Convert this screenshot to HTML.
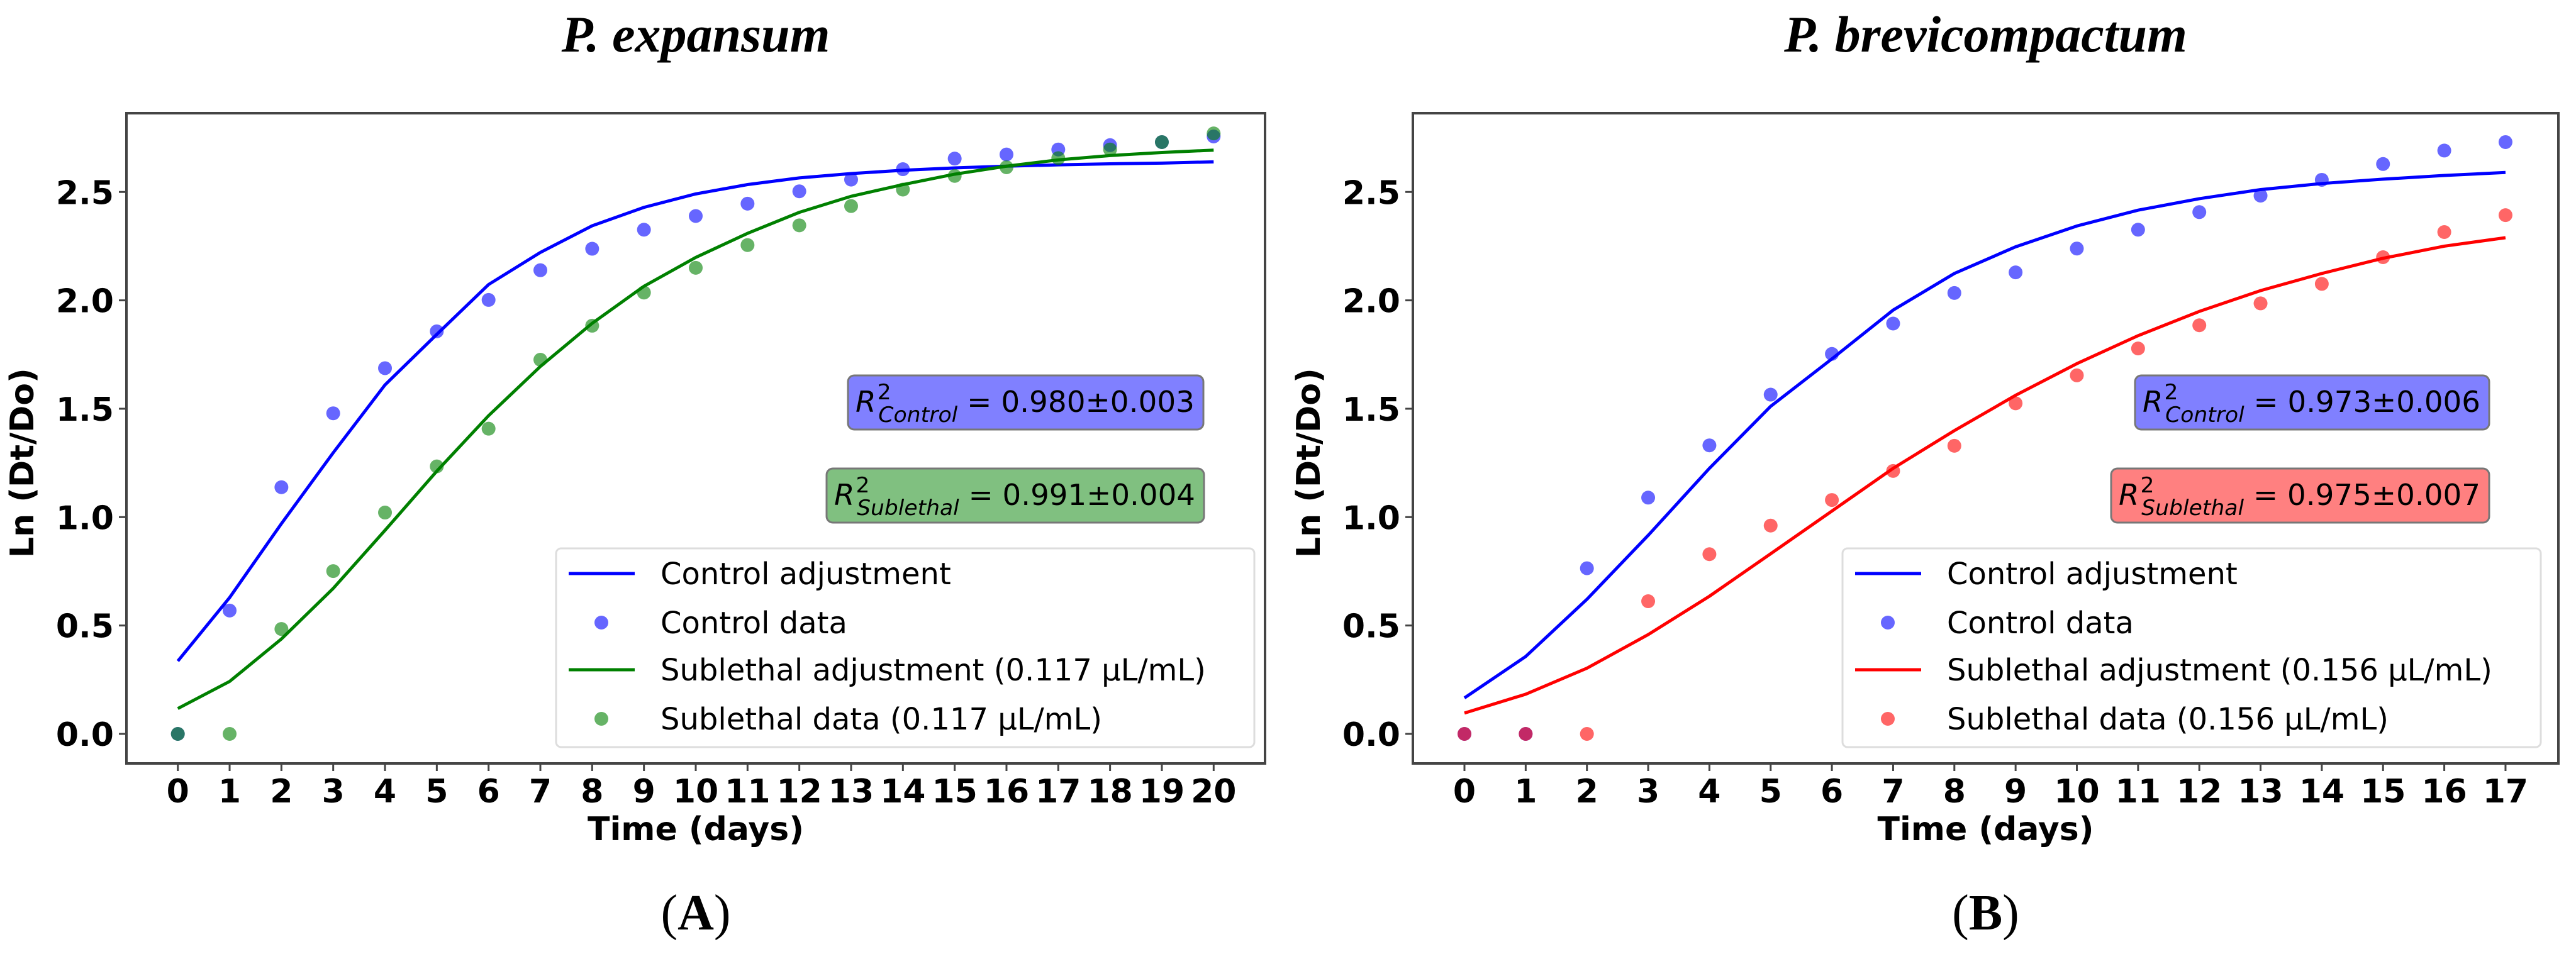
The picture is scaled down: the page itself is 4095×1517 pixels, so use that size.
<!DOCTYPE html>
<html><head><meta charset="utf-8"><style>
html,body{margin:0;padding:0;background:#fff;}
svg{display:block;}
text{font-family:"DejaVu Sans","Liberation Sans",sans-serif;}
.tick{font-weight:bold;font-size:52px;}
.lbl{font-weight:bold;font-size:52px;}
.leg{font-size:48px;}
.rb{font-size:46px;}
.ttl{font-family:"Liberation Serif",serif;font-style:italic;font-weight:bold;font-size:82px;}
.pan{font-family:"Liberation Serif",serif;font-size:80px;}
</style></head><body>
<svg id="fig" width="4095" height="1517" viewBox="0 0 4095 1517" xmlns="http://www.w3.org/2000/svg"></svg>
<script>
// Panel A data (P. expansum)
const daysA = [0,1,2,3,4,5,6,7,8,9,10,11,12,13,14,15,16,17,18,19,20];
const ctrlDataA = [0,0.569,1.138,1.479,1.687,1.857,2.002,2.139,2.238,2.326,2.389,2.446,2.503,2.557,2.605,2.654,2.673,2.696,2.716,2.730,2.756];
const ctrlFitA = [0.336,0.629,0.97,1.297,1.61,1.843,2.073,2.221,2.344,2.429,2.491,2.534,2.565,2.585,2.6,2.611,2.619,2.625,2.63,2.633,2.639];
const subDataA = [0,0,0.484,0.751,1.021,1.234,1.408,1.726,1.883,2.036,2.150,2.255,2.346,2.435,2.511,2.574,2.614,2.656,2.696,2.730,2.770];
const subFitA = [0.117,0.242,0.438,0.671,0.939,1.212,1.468,1.695,1.894,2.065,2.198,2.309,2.406,2.48,2.534,2.582,2.619,2.648,2.668,2.682,2.693];
// Panel B data (P. brevicompactum)
const daysB = [0,1,2,3,4,5,6,7,8,9,10,11,12,13,14,15,16,17];
const ctrlDataB = [0,0,0.764,1.090,1.331,1.565,1.753,1.893,2.034,2.129,2.239,2.326,2.407,2.483,2.556,2.629,2.691,2.730];
const ctrlFitB = [0.166,0.357,0.621,0.916,1.225,1.511,1.73,1.955,2.124,2.247,2.343,2.416,2.469,2.511,2.539,2.559,2.576,2.59];
const subDataB = [0,0,0,0.612,0.829,0.961,1.079,1.213,1.329,1.525,1.654,1.778,1.885,1.986,2.076,2.199,2.315,2.393];
const subFitB = [0.096,0.183,0.303,0.458,0.635,0.831,1.028,1.225,1.399,1.562,1.708,1.837,1.949,2.045,2.124,2.194,2.25,2.289];
const yTicks = [0,0.5,1.0,1.5,2.0,2.5];
const yTickLabels = ["0.0","0.5","1.0","1.5","2.0","2.5"];

const NS="http://www.w3.org/2000/svg";
const svg=document.getElementById('fig');
function mk(tag,attrs,parent,txt){const e=document.createElementNS(NS,tag);for(const k in attrs)e.setAttribute(k,attrs[k]);if(txt!==undefined)e.textContent=txt;(parent||svg).appendChild(e);return e;}

function panel(o){
  const g=mk('g',{});
  
  
  const L=o.left,R=o.right,T=180,B=1214;
  const x=d=>o.x0+d*o.dx;
  const y=v=>1167-v*344.7;
  const t=mk('text',{x:(L+R)/2,y:82,'text-anchor':'middle',class:'ttl'},g,o.title);
  
  
  const p=mk('text',{x:(L+R)/2,y:1478,'text-anchor':'middle',class:'pan'},g);
  
  
  mk('tspan',{},p,'(');mk('tspan',{'font-weight':'bold'},p,o.panel);mk('tspan',{},p,')');
  const fr=mk('rect',{x:L,y:T,width:R-L,height:B-T,fill:'none',stroke:'#444',"stroke-width":4},g);
  
  
  yTicks.forEach((v,i)=>{
    mk('line',{x1:L-12,x2:L,y1:y(v),y2:y(v),stroke:'#444','stroke-width':3},g);
    const tl=mk('text',{x:L-20,y:y(v)+19,'text-anchor':'end',class:'tick'},g,yTickLabels[i]);
    
    
  });
  o.days.forEach(d=>{
    mk('line',{x1:x(d),x2:x(d),y1:B,y2:B+12,stroke:'#444','stroke-width':3},g);
    const tl=mk('text',{x:x(d),y:1276,'text-anchor':'middle',class:'tick'},g,String(d));
    
    
  });
  const xl=mk('text',{x:(L+R)/2,y:1336,'text-anchor':'middle',class:'lbl'},g,'Time (days)');
  
  
  const yl=mk('text',{x:0,y:0,'text-anchor':'middle',class:'lbl',transform:`translate(${L-148},${y(1.25)}) rotate(-90)`},g,'Ln (Dt/Do)');
  
  
  const pts=a=>a.map((v,i)=>x(o.days[i])+','+y(v)).join(' ');
  const l1=mk('polyline',{points:pts(o.ctrlFit),fill:'none',stroke:'#0000ff','stroke-width':5},g);
  
  
  const l2=mk('polyline',{points:pts(o.subFit),fill:'none',stroke:o.col,'stroke-width':5},g);
  
  
  o.ctrlData.forEach((v,i)=>{
    const c=mk('circle',{cx:x(o.days[i]),cy:y(v),r:11,fill:'rgba(0,0,255,0.6)'},g);
    
    
  });
  o.subData.forEach((v,i)=>{
    const c=mk('circle',{cx:x(o.days[i]),cy:y(v),r:11,fill:o.dotCol},g);
    
    
  });
  function rbox(x1,y1,x2,fill,sub,val,name){
    const bg=mk('g',{},g);
    
    
    mk('rect',{x:x1,y:y1,width:x2-x1,height:86,rx:10,fill:fill,stroke:'#777','stroke-width':3},bg);
    const tx=mk('text',{x:x1+12,y:y1+58,class:'rb',textLength:x2-x1-26,lengthAdjust:'spacingAndGlyphs'},bg);
    mk('tspan',{'font-style':'italic'},tx,'R');
    mk('tspan',{'font-size':'34px',dy:-20,dx:2},tx,'2');
    mk('tspan',{'font-size':'34px','font-style':'italic',dy:36,dx:-20},tx,sub);
    mk('tspan',{dy:-16},tx,' = '+val);
  }
  rbox(o.rc[0],597,o.rc[1],'#8080ff','Control',o.rcv,'r2-control-box');
  rbox(o.rs[0],745,o.rs[1],o.boxCol,'Sublethal',o.rsv,'r2-sublethal-box');
  const lg=mk('g',{},g);
  
  
  mk('rect',{x:o.lg,y:872,width:1110,height:316,rx:8,fill:'#fff',stroke:'#ddd','stroke-width':3},lg);
  const rows=[912,990,1065,1143];
  const lx=o.lg+20;
  mk('line',{x1:lx,x2:lx+105,y1:rows[0],y2:rows[0],stroke:'#0000ff','stroke-width':5},lg);
  mk('circle',{cx:lx+52,cy:rows[1],r:11,fill:'rgba(0,0,255,0.6)'},lg);
  mk('line',{x1:lx,x2:lx+105,y1:rows[2],y2:rows[2],stroke:o.col,'stroke-width':5},lg);
  mk('circle',{cx:lx+52,cy:rows[3],r:11,fill:o.dotCol},lg);
  const labels=['Control adjustment','Control data','Sublethal adjustment ('+o.conc+' µL/mL)','Sublethal data ('+o.conc+' µL/mL)'];
  labels.forEach((s,i)=>{
    const e=mk('text',{x:lx+146,y:rows[i]+17,class:'leg'},lg,s);
    
    
  });
}
panel({name:'chart-a',title:'P. expansum',panel:'A',left:201,right:2011,x0:282.7,dx:82.33,days:daysA,
  ctrlData:ctrlDataA,ctrlFit:ctrlFitA,subData:subDataA,subFit:subFitA,col:'#008000',dotCol:'rgba(0,128,0,0.6)',
  boxCol:'#80c080',rc:[1348,1913],rs:[1314,1914],rcv:'0.980±0.003',rsv:'0.991±0.004',lg:884,conc:'0.117'});
panel({name:'chart-b',title:'P. brevicompactum',panel:'B',left:2246,right:4067,x0:2328,dx:97.35,days:daysB,
  ctrlData:ctrlDataB,ctrlFit:ctrlFitB,subData:subDataB,subFit:subFitB,col:'#ff0000',dotCol:'rgba(255,0,0,0.6)',
  boxCol:'#ff8080',rc:[3394,3957],rs:[3356,3957],rcv:'0.973±0.006',rsv:'0.975±0.007',lg:2929,conc:'0.156'});
</script>
</body></html>
